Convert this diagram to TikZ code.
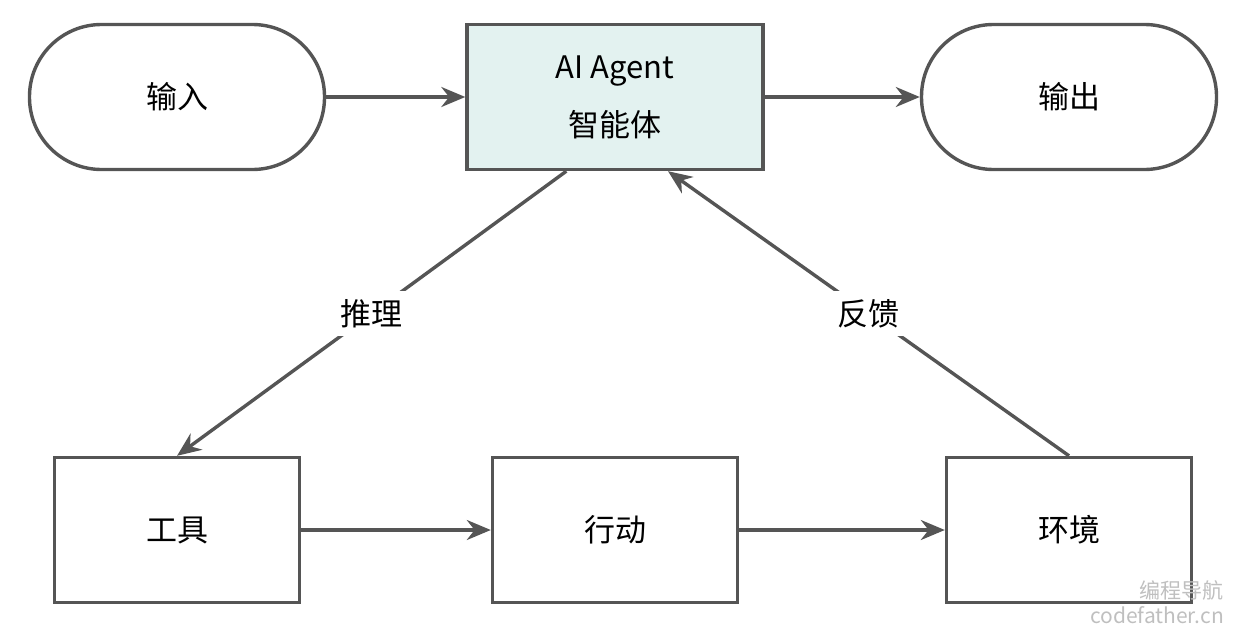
\documentclass[tikz,border=0pt]{standalone}
\usepackage{fontspec}
\setmainfont{Noto Sans CJK SC}
\usetikzlibrary{arrows.meta}
\definecolor{linegray}{HTML}{555555}
\definecolor{agentfill}{HTML}{E3F2F0}
\tikzset{
  pill/.style={draw=linegray, line width=3.4pt, rounded corners=72pt, minimum width=295pt, minimum height=145pt, font=\fontsize{31}{36}\selectfont},
  box/.style={draw=linegray, line width=3.4pt, minimum width=245pt, minimum height=145pt, font=\fontsize{31}{36}\selectfont},
  flow/.style={draw=linegray, line width=3.4pt, -{Stealth[length=24pt, width=20pt]}},
  lbl/.style={fill=white, inner sep=8pt, font=\fontsize{31}{36}\selectfont}
}
\begin{document}
\begin{tikzpicture}[x=1pt, y=-1pt]
\useasboundingbox (0,0) rectangle (1236,632);
% Top row
    \node[pill] (input) at (177,97) {输入};
    \node[box, minimum width=296pt, fill=agentfill, align=center] (agent) at (615,97) {AI Agent\\[22pt]智能体};
    \node[pill] (output) at (1069,97) {输出};
% Bottom row
    \node[box] (tool) at (177,530) {工具};
    \node[box] (action) at (615,530) {行动};
    \node[box] (env) at (1069,530) {环境};
% Connectors
    \draw[flow] (input) -- (agent);
    \draw[flow] (agent) -- (output);
    \draw[flow] (tool) -- (action);
    \draw[flow] (action) -- (env);
    \draw[flow] (agent.south west) ++(101,0) coordinate (a1) -- (tool.north) node[lbl, pos=0.5] {推理};
    \draw[flow] (env.north) -- ([xshift=53pt]agent.south) node[lbl, pos=0.5] {反馈};
% Watermark
    \node[gray!50, font=\fontsize{21}{25}\selectfont, align=right, anchor=south east, inner sep=2pt] (mark) at (1226,626) {编程导航\\codefather.cn};
\end{tikzpicture}
\end{document}
